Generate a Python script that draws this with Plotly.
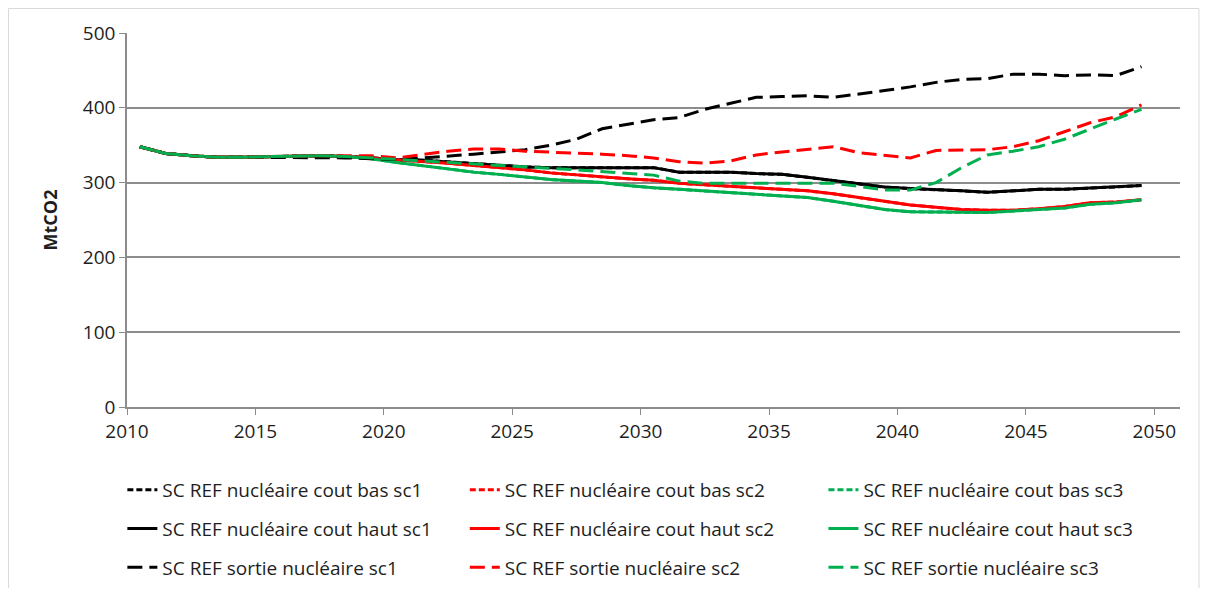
import plotly.graph_objects as go

# one point per year, drawn at the middle of the year slot (Excel category axis)
years = list(range(2010, 2050))

haut_sc1 = [348, 339, 336, 334, 334, 335, 336, 336, 335, 333, 331, 330, 328, 325, 323, 321, 320, 320, 320, 320,
            320, 314, 314, 314, 312, 311, 307, 303, 298, 294, 292, 290, 289, 287, 289, 291, 291, 293, 294, 296]
haut_sc2 = [348, 339, 336, 334, 334, 335, 336, 336, 335, 333, 331, 329, 326, 323, 320, 317, 313, 310, 308, 305,
            303, 299, 297, 295, 293, 291, 289, 285, 280, 274, 270, 267, 264, 263, 263, 265, 268, 273, 274, 277]
haut_sc3 = [348, 339, 336, 334, 334, 335, 336, 336, 335, 332, 327, 323, 319, 314, 311, 307, 304, 302, 300, 296,
            293, 291, 289, 287, 284, 282, 280, 275, 269, 264, 261, 261, 260, 260, 262, 264, 266, 271, 273, 277]
sortie_sc1 = [348, 339, 336, 334, 334, 334, 334, 334, 333, 332, 331, 333, 335, 338, 341, 344, 350, 358, 372, 378,
              384, 387, 398, 406, 414, 415, 416, 414, 418, 423, 428, 434, 438, 439, 445, 445, 443, 444, 443, 455]
sortie_sc2 = [348, 339, 336, 334, 334, 335, 336, 336, 336, 336, 333, 338, 342, 345, 345, 342, 341, 340, 338, 336,
              333, 328, 326, 329, 337, 341, 345, 348, 340, 336, 333, 343, 343, 344, 348, 356, 368, 380, 388, 404]
sortie_sc3 = [348, 339, 336, 334, 334, 335, 336, 336, 335, 333, 331, 329, 327, 325, 323, 320, 319, 317, 315, 312,
              310, 302, 299, 299, 299, 300, 300, 299, 295, 290, 290, 300, 320, 337, 342, 348, 358, 372, 385, 398]
# the "cout bas" curves are not visible: they sit under the "cout haut" ones
bas_sc1 = list(haut_sc1)
bas_sc2 = list(haut_sc2)
bas_sc3 = list(haut_sc3)

x_ticks = [2010, 2015, 2020, 2025, 2030, 2035, 2040, 2045, 2050]
y_ticks = [0, 100, 200, 300, 400, 500]

BLACK = "#000000"
RED = "#FF0000"
GREEN = "#00B050"
GRID = "#8C8C8C"
TEXT = "#1E1E1E"
FONT = "'Open Sans', sans-serif"

series = [
    ("SC REF nucléaire cout bas sc1", bas_sc1, BLACK, "6px,3px", "legend"),
    ("SC REF nucléaire cout bas sc2", bas_sc2, RED, "6px,3px", "legend2"),
    ("SC REF nucléaire cout bas sc3", bas_sc3, GREEN, "6px,3px", "legend3"),
    ("SC REF nucléaire cout haut sc1", haut_sc1, BLACK, "solid", "legend"),
    ("SC REF nucléaire cout haut sc2", haut_sc2, RED, "solid", "legend2"),
    ("SC REF nucléaire cout haut sc3", haut_sc3, GREEN, "solid", "legend3"),
    ("SC REF sortie nucléaire sc1", sortie_sc1, BLACK, "15px,7px", "legend"),
    ("SC REF sortie nucléaire sc2", sortie_sc2, RED, "15px,7px", "legend2"),
    ("SC REF sortie nucléaire sc3", sortie_sc3, GREEN, "15px,7px", "legend3"),
]

x_mid = [y + 0.5 for y in years]

fig = go.Figure()
for i, (name, vals, color, dash, leg) in enumerate(series):
    fig.add_trace(
        go.Scatter(
            x=x_mid,
            y=vals,
            name=name,
            mode="lines",
            line=dict(color=color, width=3, dash=dash),
            legend=leg,
            legendgroup=f"g{i}",
        )
    )

legend_style = dict(
    orientation="v",
    yanchor="top",
    y=-0.171,
    xanchor="left",
    font=dict(family=FONT, size=19, color=TEXT),
    tracegroupgap=11,
    bgcolor="rgba(0,0,0,0)",
)

# page body adds an 8px offset, so the figure is sized to sit inside the window
fig.update_layout(
    width=1192,
    height=580,
    margin=dict(l=119, r=20, t=25, b=181, autoexpand=False),
    paper_bgcolor="white",
    plot_bgcolor="white",
    font=dict(family=FONT, size=19, color=TEXT),
    legend=dict(legend_style, x=-0.0044),
    legend2=dict(legend_style, x=0.3208),
    legend3=dict(legend_style, x=0.6614),
    xaxis=dict(
        range=[2010, 2051],
        tickvals=x_ticks,
        showgrid=False,
        showline=True,
        linecolor=GRID,
        linewidth=1.5,
        ticks="outside",
        ticklen=6,
        tickcolor=GRID,
        zeroline=False,
    ),
    yaxis=dict(
        range=[0, 500],
        tickvals=y_ticks,
        showgrid=True,
        gridcolor=GRID,
        gridwidth=1.5,
        showline=True,
        linecolor=GRID,
        linewidth=1.5,
        ticks="outside",
        ticklen=6,
        tickcolor=GRID,
        zeroline=False,
        title=dict(text="<b>MtCO2</b>", standoff=21, font=dict(size=18)),
    ),
    shapes=[
        dict(type="rect", xref="paper", yref="paper",
             x0=-0.1125, x1=1.018, y0=-0.49, y1=1.0655,
             line=dict(color="#DADADA", width=1), layer="below"),
    ],
)

fig.write_html("out.html")
